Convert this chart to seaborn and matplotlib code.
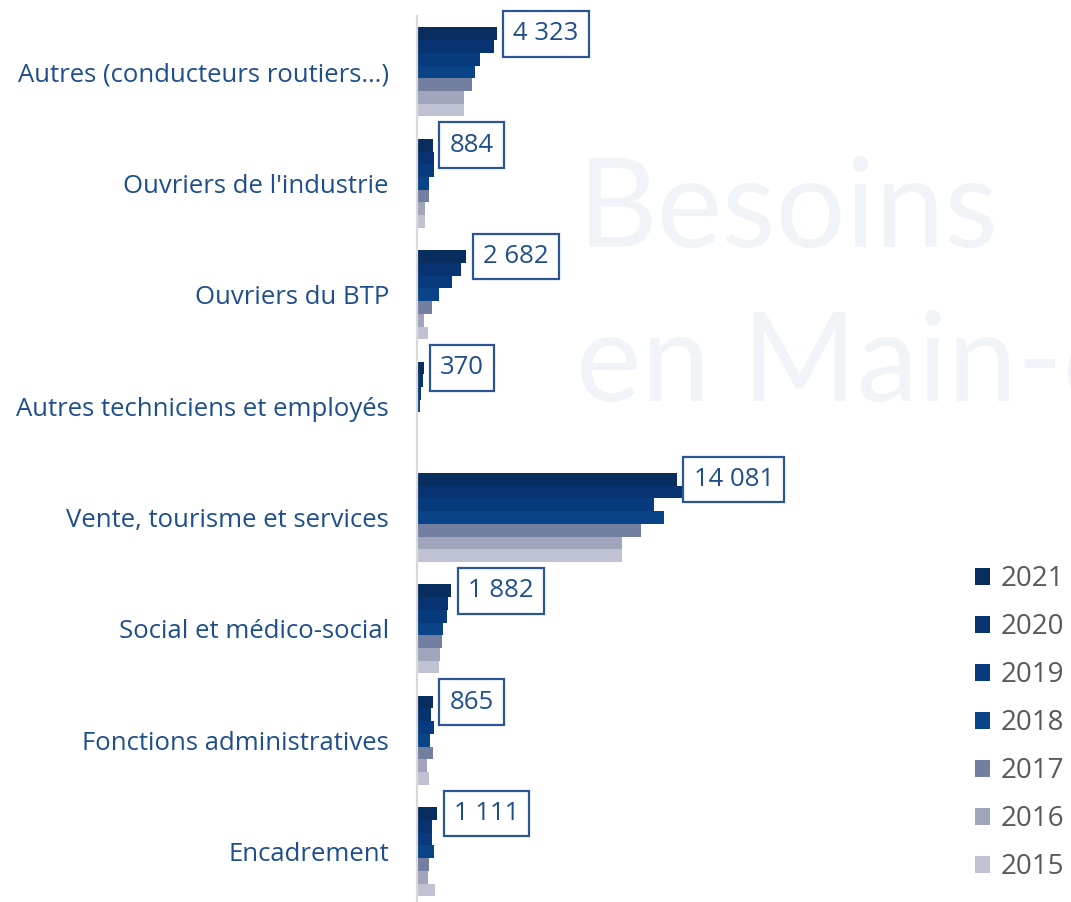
import numpy as np
import pandas as pd
import matplotlib.pyplot as plt
import seaborn as sns

categories = [
    "Autres (conducteurs routiers…)",
    "Ouvriers de l'industrie",
    "Ouvriers du BTP",
    "Autres techniciens et employés",
    "Vente, tourisme et services",
    "Social et médico-social",
    "Fonctions administratives",
    "Encadrement",
]
years = ["2021", "2020", "2019", "2018", "2017", "2016", "2015"]

v2021 = [4323, 884, 2682, 370, 14081, 1882, 865, 1111]
v2020 = [4200, 938, 2380, 330, 14968, 1710, 790, 844]
v2019 = [3425, 930, 1894, 250, 12841, 1623, 920, 850]
v2018 = [3138, 682, 1207, 180, 13400, 1407, 720, 920]
v2017 = [3010, 650, 845, 90, 12137, 1353, 866, 650]
v2016 = [2577, 433, 411, 50, 11110, 1277, 574, 620]
v2015 = [2560, 430, 628, 30, 11100, 1207, 650, 990]

colors = ["#082d5f", "#073370", "#083b7d", "#0a4488", "#737fa0", "#a0a5bb", "#bfc2d2"]

series = [v2021, v2020, v2019, v2018, v2017, v2016, v2015]
df = pd.DataFrame(
    [(c, y, v) for y, vals in zip(years, series) for c, v in zip(categories, vals)],
    columns=["categorie", "annee", "valeur"],
)

sns.set_style("white")
plt.rcParams["font.family"] = ["Open Sans", "DejaVu Sans"]

fig = plt.figure(figsize=(10.71, 9.02), dpi=100)

# filigrane
fig.text(578 / 1071, 1 - 247 / 902, "Besoins", fontsize=89, color="#f0f3f8",
         family="Lato", ha="left", va="baseline", zorder=0)
fig.text(576 / 1071, 1 - 400 / 902, "en Main-d'œuvre", fontsize=89, color="#f0f3f8",
         family="Lato", ha="left", va="baseline", zorder=0)

ax = fig.add_axes([416.7 / 1071, -0.006, 1 - 416.7 / 1071, 0.988])
ax.patch.set_alpha(0)

sns.barplot(data=df, y="categorie", x="valeur", hue="annee", hue_order=years,
            order=categories, palette=colors, orient="h", width=0.8, gap=0,
            saturation=1, linewidth=0, ax=ax, legend=True)

ax.set_xlim(0, (1071 - 416.7) / 0.01848)
ax.set_ylim(7.5, -0.5)
ax.set_xlabel("")
ax.set_ylabel("")
ax.set_xticks([])
ax.tick_params(axis="y", length=0, pad=20, labelsize=18.5, labelcolor="#1f4e8c")
for s in ["top", "right", "bottom"]:
    ax.spines[s].set_visible(False)
ax.spines["left"].set_color("#d9d9d9")
ax.spines["left"].set_linewidth(1.6)

# étiquettes sur les barres 2021
for bar, v in zip(ax.containers[0], v2021):
    lab = f"{v:,}".replace(",", " ")
    ax.annotate(lab, (bar.get_width(), bar.get_y() + bar.get_height() / 2),
                xytext=(12, 0), textcoords="offset points", ha="left", va="center",
                fontsize=18.5, color="#1f4e8c",
                bbox=dict(boxstyle="square,pad=0.4", fc="white", ec="#2a5698", lw=1.6))

handles, labels = ax.get_legend_handles_labels()
ax.legend(handles, labels, loc="center left", bbox_to_anchor=(975 / 1071, 1 - 723 / 902),
          bbox_transform=fig.transFigure, frameon=False, fontsize=20, labelcolor="#595959",
          handlelength=0.55, handleheight=0.55, handletextpad=0.36, labelspacing=0.72,
          borderpad=0, borderaxespad=0)

fig.savefig("out.png", dpi=100)
